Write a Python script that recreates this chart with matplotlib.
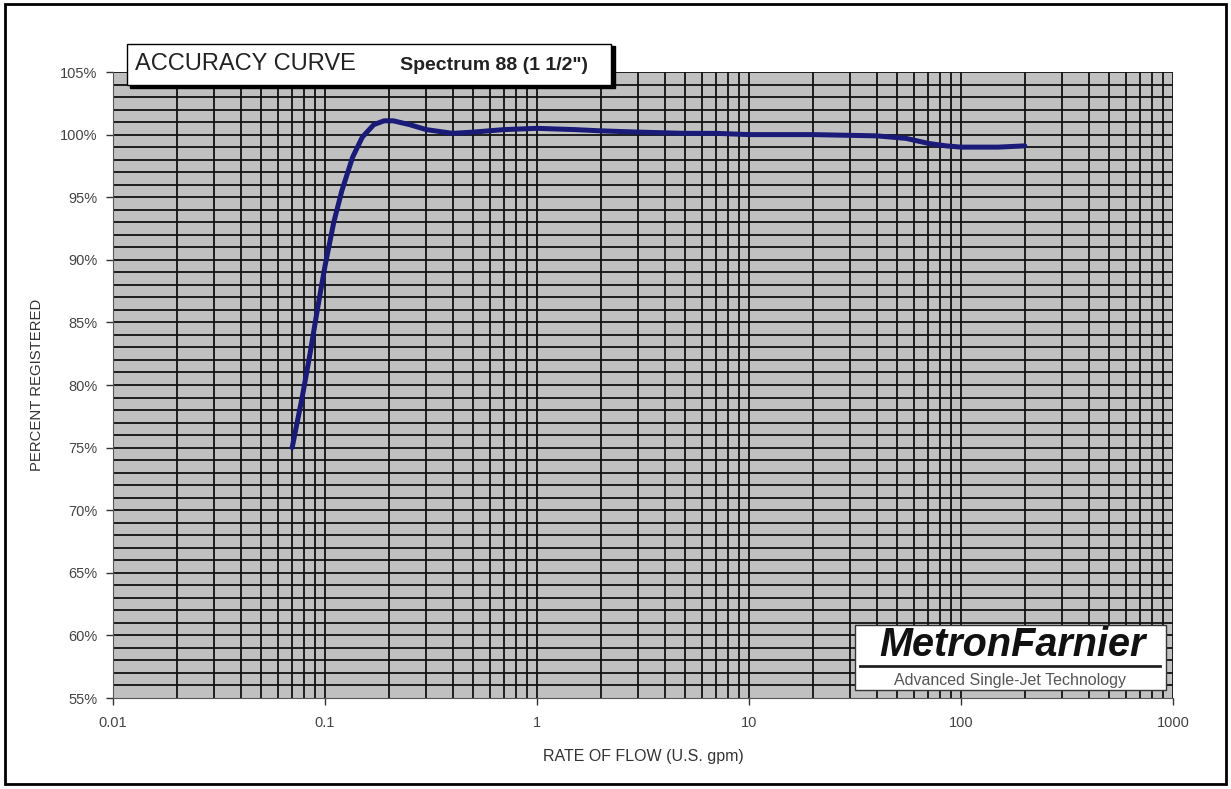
import matplotlib
matplotlib.use("Agg")
import matplotlib.pyplot as plt
from matplotlib.patches import Rectangle
from matplotlib.lines import Line2D
from matplotlib.ticker import FixedLocator, NullFormatter

plt.rcParams['font.family'] = ['Liberation Sans', 'DejaVu Sans']

flow = [0.07, 0.078, 0.085, 0.092, 0.1, 0.11, 0.12, 0.135, 0.15, 0.17, 0.19, 0.21,
        0.25, 0.3, 0.4, 0.5, 0.7, 1.0, 1.5, 2, 3, 5, 7, 10, 20, 40, 55, 70, 85, 100, 150, 200]
pct = [75.0, 79.0, 82.5, 86.0, 89.5, 93.0, 95.5, 98.2, 99.8, 100.8, 101.1, 101.1,
       100.8, 100.4, 100.1, 100.2, 100.4, 100.5, 100.4, 100.3, 100.2, 100.1, 100.1, 100.0,
       100.0, 99.9, 99.7, 99.3, 99.1, 99.0, 99.0, 99.1]

x_ticks = [0.01, 0.1, 1, 10, 100, 1000]
x_ticklabels = ["0.01", "0.1", "1", "10", "100", "1000"]
y_ticks = [55, 60, 65, 70, 75, 80, 85, 90, 95, 100, 105]
y_ticklabels = ["55%", "60%", "65%", "70%", "75%", "80%", "85%", "90%", "95%", "100%", "105%"]

fig = plt.figure(figsize=(12.31, 7.89), dpi=100)
fig.patch.set_facecolor("white")
# outer frame
fig.add_artist(Rectangle((5/1231, 5/789), 1221/1231, 780/789, transform=fig.transFigure,
                         fill=False, edgecolor="black", linewidth=2))

ax = fig.add_axes([113/1231, 91/789, 1060/1231, 626/789])
ax.set_facecolor("#c0c0c0")
ax.set_xscale("log")
ax.set_xlim(0.01, 1000)
ax.set_ylim(55, 105)

# grid lines
minor_x = [m * 10.0**e for e in range(-2, 3) for m in range(2, 10)]
for xv in minor_x + x_ticks[1:]:
    ax.axvline(xv, color="#111111", linewidth=1.3, zorder=1)
for yv in range(56, 106):
    ax.axhline(yv, color="#111111", linewidth=1.3, zorder=1)

ax.plot(flow, pct, color="#1a1a78", linewidth=3.6, solid_capstyle="round", zorder=3)

ax.xaxis.set_major_locator(FixedLocator(x_ticks))
ax.set_xticklabels(x_ticklabels)
ax.xaxis.set_minor_locator(FixedLocator([]))
ax.xaxis.set_minor_formatter(NullFormatter())
ax.set_yticks(y_ticks)
ax.set_yticklabels(y_ticklabels)
ax.tick_params(axis="both", which="major", direction="out", length=5, width=1,
               labelsize=10.5, labelcolor="#444444", color="#333333")
ax.tick_params(axis="x", pad=8)
ax.tick_params(axis="y", pad=6)
for s in ["top", "right"]:
    ax.spines[s].set_visible(False)
ax.spines["left"].set_color("#555555")
ax.spines["bottom"].set_color("#555555")

ax.set_xlabel("RATE OF FLOW (U.S. gpm)", fontsize=11.5, color="#333333", labelpad=14)
ax.set_ylabel("PERCENT REGISTERED", fontsize=10.7, color="#333333", labelpad=12)

# title box with shadow
fig.add_artist(Rectangle((130/1231, (789-88)/789), 485/1231, 42/789, transform=fig.transFigure,
                         facecolor="black", edgecolor="black", zorder=10))
fig.add_artist(Rectangle((127/1231, (789-85)/789), 484/1231, 41/789, transform=fig.transFigure,
                         facecolor="white", edgecolor="black", linewidth=1, zorder=11))
fig.text(135/1231, (789-64)/789, "ACCURACY CURVE", fontsize=17, color="#222222",
         ha="left", va="center", zorder=12)
fig.text(400/1231, (789-66)/789, "Spectrum 88 (1 1/2\")", fontsize=14, fontweight="bold",
         color="#222222", ha="left", va="center", zorder=12)

# logo box
fig.add_artist(Rectangle((855/1231, (789-690)/789), 311/1231, 65/789, transform=fig.transFigure,
                         facecolor="white", edgecolor="#333333", linewidth=1, zorder=10))
fig.text(1012/1231, (789-645)/789, "MetronFarnier", fontsize=28.5, fontweight="bold",
         fontstyle="italic", color="#111111", ha="center", va="center", zorder=12)
fig.add_artist(Line2D([860/1231, 1160/1231], [(789-666)/789]*2, transform=fig.transFigure,
                      color="#222222", linewidth=2, zorder=12))
fig.text(1010/1231, (789-680)/789, "Advanced Single-Jet Technology", fontsize=11.5,
         color="#555555", ha="center", va="center", zorder=12)

fig.savefig("out.png", dpi=100, facecolor="white")
